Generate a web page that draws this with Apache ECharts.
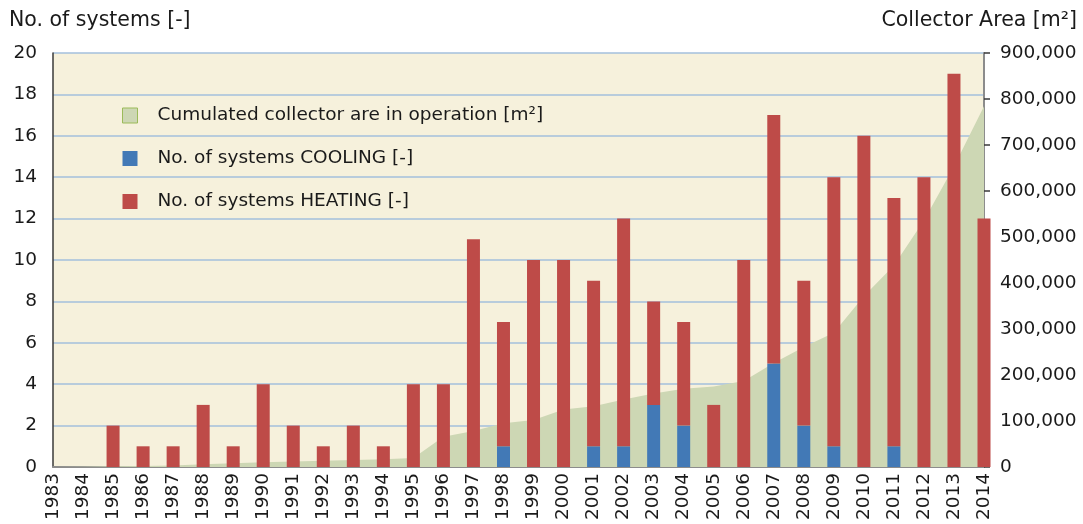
<!DOCTYPE html>
<html>
<head>
<meta charset="utf-8">
<script src="https://cdn.jsdelivr.net/npm/echarts@6/dist/echarts.min.js"></script>
<style>
  html, body { margin: 0; padding: 0; background: #ffffff; }
  #chart { width: 1083px; height: 524px; }
</style>
</head>
<body>
<div id="chart"></div>
<script>
// Years of installation
const years = ['1983','1984','1985','1986','1987','1988','1989','1990','1991','1992','1993','1994','1995','1996','1997','1998',
  '1999','2000','2001','2002','2003','2004','2005','2006','2007','2008','2009','2010','2011','2012','2013','2014'];

// Number of new systems per year, cooling part
const coolingSystems = [0,0,0,0,0,0,0,0,0,0,0,0,0,0,0,1,
  0,0,1,1,3,2,0,0,5,2,1,0,1,0,0,0];

// Number of new systems per year, heating part
const heatingSystems = [0,0,2,1,1,3,1,4,2,1,2,1,4,4,11,6,
  10,10,8,11,5,5,3,10,12,7,13,16,12,14,19,12];

// Cumulated collector area in operation [m²]
const collectorArea = [0,500,1500,2000,3000,6000,8000,10500,12000,13500,15000,17000,19500,66000,78000,95000,
  102000,125000,132000,147000,160000,170000,175000,187000,226000,261000,292000,371000,438000,536000,653000,784000];

// Axis tick settings
const leftMax = 20, leftStep = 2;
const rightMax = 900000, rightStep = 100000;

const FONT = 'DejaVu Sans';
const TXT = '#1a1a1a';

const chart = echarts.init(document.getElementById('chart'), null, { renderer: 'canvas' });

chart.setOption({
  animation: false,
  textStyle: { fontFamily: FONT },
  grid: {
    left: 53, right: 99, top: 53, bottom: 57,
    show: true, backgroundColor: '#f6f1dc', borderWidth: 0
  },
  legend: {
    orient: 'vertical',
    left: 122, top: 106, padding: 0,
    itemWidth: 15, itemHeight: 15, itemGap: 24,
    icon: 'rect',
    textStyle: { fontFamily: FONT, fontSize: 18.5, color: TXT, padding: [0, 0, 0, 15] },
    data: [
      { name: 'Cumulated collector are in operation [m²]', itemStyle: { color: '#cdd7b4', borderColor: '#9bbb59', borderWidth: 1 } },
      { name: 'No. of systems COOLING [-]' },
      { name: 'No. of systems HEATING [-]' }
    ]
  },
  xAxis: {
    type: 'category',
    data: years,
    boundaryGap: false,
    axisLine: { show: true, lineStyle: { color: '#8c8c8c', width: 2 } },
    axisTick: { show: false },
    axisLabel: { rotate: 90, fontSize: 18.5, color: TXT, fontFamily: FONT, margin: 6, interval: 0 },
    splitLine: { show: false }
  },
  yAxis: [
    {
      type: 'value',
      min: 0, max: leftMax, interval: leftStep,
      name: 'No. of systems [-]',
      nameLocation: 'end',
      nameGap: 22,
      nameTextStyle: { fontFamily: FONT, fontSize: 20.5, color: TXT, align: 'left', padding: [0, 0, 0, -44] },
      axisLine: { show: true, lineStyle: { color: '#3a3a3a', width: 1.5 } },
      axisTick: { show: false },
      axisLabel: { fontSize: 18.5, color: TXT, fontFamily: FONT, margin: 16 },
      splitLine: { show: true, lineStyle: { color: '#a3bfdc', width: 1.5 } }
    },
    {
      type: 'value',
      min: 0, max: rightMax, interval: rightStep,
      name: 'Collector Area [m²]',
      nameLocation: 'end',
      nameGap: 22,
      nameTextStyle: { fontFamily: FONT, fontSize: 20.5, color: TXT, align: 'right', padding: [0, -93, 0, 0] },
      position: 'right',
      axisLine: { show: true, lineStyle: { color: '#8c8c8c', width: 2 } },
      axisTick: { show: true, inside: false, length: 6, lineStyle: { color: '#3a3a3a', width: 1.5 } },
      axisLabel: {
        fontSize: 18.5, color: TXT, fontFamily: FONT, margin: 16,
        formatter: v => v.toLocaleString('en-US')
      },
      splitLine: { show: false }
    }
  ],
  series: [
    {
      name: 'Cumulated collector are in operation [m²]',
      type: 'line',
      yAxisIndex: 1,
      data: collectorArea,
      symbol: 'none',
      lineStyle: { width: 0 },
      areaStyle: { color: '#cdd7b4', opacity: 1 },
      itemStyle: { color: '#cdd7b4' },
      z: 1
    },
    {
      name: 'No. of systems COOLING [-]',
      type: 'bar',
      stack: 'systems',
      data: coolingSystems,
      barWidth: 13,
      itemStyle: { color: '#4279b6' },
      z: 3
    },
    {
      name: 'No. of systems HEATING [-]',
      type: 'bar',
      stack: 'systems',
      data: heatingSystems,
      barWidth: 13,
      itemStyle: { color: '#be4b48' },
      z: 3
    }
  ]
});
</script>
</body>
</html>
